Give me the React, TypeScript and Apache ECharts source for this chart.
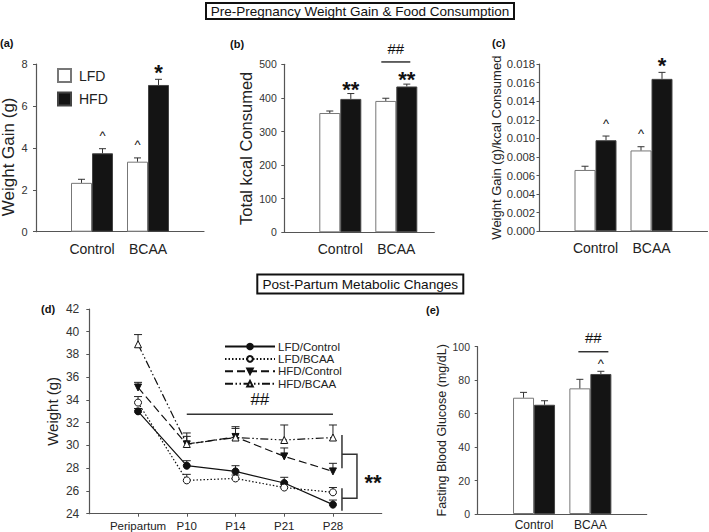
import React, { useEffect, useRef } from 'react';
import * as echarts from 'echarts';

const FONT = '"Liberation Sans", Arial, Helvetica, sans-serif';

// ---- shared categories ----
const groupNames = ['Control', 'BCAA'];
const groupPos = [1, 2];

// ---- panel (a) Weight Gain (g) ----
const aLFD = [2.33, 3.34];
const aLFDErr = [2.5, 3.52];
const aHFD = [3.74, 7.0];
const aHFDErr = [3.96, 7.27];
const aLFDMarks = ['', '^'];
const aHFDMarks = ['^', '*'];

// ---- panel (b) Total kcal Consumed ----
const bLFD = [355, 391];
const bLFDErr = [361, 399];
const bHFD = [397, 434];
const bHFDErr = [413, 441];
const bLFDMarks = ['', ''];
const bHFDMarks = ['**', '**'];
const bSig = [2, 507]; // group position, line level

// ---- panel (c) Weight Gain (g)/kcal Consumed ----
const cLFD = [0.0066, 0.0087];
const cLFDErr = [0.007, 0.0091];
const cHFD = [0.0098, 0.0164];
const cHFDErr = [0.01025, 0.0171];
const cLFDMarks = ['', '^'];
const cHFDMarks = ['^', '*'];

// ---- panel (e) Fasting Blood Glucose ----
const eLFD = [69.5, 75.1];
const eLFDErr = [72.7, 80.5];
const eHFD = [65.3, 83.7];
const eHFDErr = [67.7, 85.3];
const eLFDMarks = ['', ''];
const eHFDMarks = ['', '^'];
const eSig = [2, 97];

// ---- panel (d) Weight (g) over time ----
const dTimes = ['Peripartum', 'P10', 'P14', 'P21', 'P28'];
const dPos = [1, 2, 3, 4, 5];
const lfdCtrl = [33.0, 28.22, 27.72, 26.7, 24.8];
const lfdCtrlErr = [33.25, 28.66, 28.22, 27.2, 25.2];
const lfdBcaa = [33.77, 26.93, 27.1, 26.3, 25.88];
const lfdBcaaErr = [34.3, 27.46, 27.4, 26.55, 26.3];
const hfdCtrl = [35.1, 30.1, 30.75, 29.04, 27.72];
const hfdCtrlErr = [35.55, 31.1, 31.65, 29.78, 28.43];
const hfdBcaa = [38.9, 30.13, 30.7, 30.48, 30.7];
const hfdBcaaErr = [39.75, 30.8, 31.5, 31.8, 31.8];
const dSigLine = [2, 5, 32.75, 34.0]; // from, to, line level, text level
const dBracketTop = [30.92, 27.99, 29.22];
const dBracketBottom = [26.23, 24.26, 25.35];
const dStarLevel = 27.17;

const BAR_W = 21;
const AXIS_COLOR = '#555';
const TEXT_COLOR = '#222';

function barX(gi: number, max: number) {
  const isE = gi === 4;
  return {
    type: 'value',
    gridIndex: gi,
    min: 0,
    max,
    interval: 1,
    axisLine: { show: true, lineStyle: { color: AXIS_COLOR, width: 1.2 } },
    axisTick: { show: false },
    splitLine: { show: false },
    axisLabel: {
      customValues: groupPos,
      formatter: (v: number) => {
        const i = groupPos.indexOf(Math.round(v));
        return Math.abs(v - Math.round(v)) < 1e-6 && i >= 0 ? groupNames[i] : '';
      },
      fontFamily: FONT,
      fontSize: isE ? 12 : 14,
      color: TEXT_COLOR,
      margin: isE ? 5 : 10,
    },
  };
}

function yAx(gi: number, min: number, max: number, interval: number, name: string, o: any) {
  return {
    type: 'value',
    gridIndex: gi,
    min,
    max,
    interval,
    name,
    nameLocation: 'middle',
    nameGap: o.nameGap,
    nameRotate: 90,
    nameTextStyle: {
      fontFamily: FONT,
      fontSize: o.nameSize,
      color: TEXT_COLOR,
      padding: o.namePad || 0,
    },
    axisLine: { show: true, lineStyle: { color: AXIS_COLOR, width: 1.2 } },
    axisTick: { show: true, inside: false, length: 3, lineStyle: { color: AXIS_COLOR } },
    splitLine: { show: false },
    axisLabel: {
      fontFamily: FONT,
      fontSize: o.labelSize,
      color: '#333',
      margin: o.labelMargin,
      formatter: o.fmt,
    },
  };
}

function barSeries(gi: number, name: string, vals: number[]) {
  const isL = name === 'LFD';
  return {
    type: 'bar',
    name,
    xAxisIndex: gi,
    yAxisIndex: gi,
    barWidth: BAR_W,
    barGap: '0%',
    data: groupPos.map((p, i) => [p, vals[i]]),
    itemStyle: isL
      ? { color: '#ffffff', borderColor: '#777', borderWidth: 1 }
      : { color: '#141414', borderColor: '#444', borderWidth: 1 },
    silent: true,
  };
}

function markStyle(m: string, caretGap: number) {
  if (m === '^') return { size: 13, weight: 'normal', dy: caretGap };
  if (m === '*') return { size: 22, weight: 'bold', dy: 7 };
  return { size: 22, weight: 'bold', dy: 4.5 };
}

function barErrSeries(gi: number, means: number[], errs: number[], sign: number, marks: string[], caretGap: number) {
  return {
    type: 'custom',
    name: 'err' + gi + '_' + sign,
    xAxisIndex: gi,
    yAxisIndex: gi,
    z: 5,
    silent: true,
    data: groupPos.map((p, i) => [p, means[i], errs[i]]),
    renderItem: (params: any, api: any) => {
      const x = api.value(0);
      const pm = api.coord([x, api.value(1)]);
      const pe = api.coord([x, api.value(2)]);
      const cx = pm[0] + sign * (BAR_W / 2);
      const children: any[] = [
        { type: 'line', shape: { x1: cx, y1: pm[1], x2: cx, y2: pe[1] }, style: { stroke: '#333', lineWidth: 1 } },
        { type: 'line', shape: { x1: cx - 3.5, y1: pe[1], x2: cx + 3.5, y2: pe[1] }, style: { stroke: '#333', lineWidth: 1 } },
      ];
      const m = marks[params.dataIndex];
      if (m) {
        const ms = markStyle(m, caretGap);
        children.push({
          type: 'text',
          style: {
            text: m,
            x: cx,
            y: pe[1] - ms.dy,
            align: 'center',
            textAlign: 'center',
            verticalAlign: 'middle',
            textVerticalAlign: 'middle',
            fontFamily: FONT,
            fontSize: ms.size,
            fontWeight: ms.weight,
            fill: '#111',
          },
        });
      }
      return { type: 'group', children };
    },
  };
}

function sigSeries(gi: number, sig: number[], dx1: number, dx2: number, textGap: number) {
  return {
    type: 'custom',
    name: 'sig' + gi,
    xAxisIndex: gi,
    yAxisIndex: gi,
    z: 6,
    silent: true,
    data: [sig],
    renderItem: (params: any, api: any) => {
      const p = api.coord([api.value(0), api.value(1)]);
      return {
        type: 'group',
        children: [
          { type: 'line', shape: { x1: p[0] + dx1, y1: p[1], x2: p[0] + dx2, y2: p[1] }, style: { stroke: '#333', lineWidth: 1.5 } },
          {
            type: 'text',
            style: {
              text: '##',
              x: p[0] + (dx1 + dx2) / 2,
              y: p[1] - textGap,
              align: 'center',
              textAlign: 'center',
              verticalAlign: 'middle',
              textVerticalAlign: 'middle',
              fontFamily: FONT,
              fontSize: 15,
              fill: '#111',
            },
          },
        ],
      };
    },
  };
}

const lineDefs = [
  { name: 'LFD/Control', vals: lfdCtrl, errs: lfdCtrlErr, type: 'solid', symbol: 'circle', fill: '#111', rot: 0 },
  { name: 'LFD/BCAA', vals: lfdBcaa, errs: lfdBcaaErr, type: [1.5, 2], symbol: 'circle', fill: '#fff', rot: 0 },
  { name: 'HFD/Control', vals: hfdCtrl, errs: hfdCtrlErr, type: [8, 4], symbol: 'triangle', fill: '#111', rot: 180 },
  { name: 'HFD/BCAA', vals: hfdBcaa, errs: hfdBcaaErr, type: [8, 2.5, 1.5, 2.5, 1.5, 2.5], symbol: 'triangle', fill: '#fff', rot: 0 },
];

function buildOption() {
  const series: any[] = [];
  // bar panels
  const barPanels = [
    { gi: 0, L: aLFD, LE: aLFDErr, H: aHFD, HE: aHFDErr, LM: aLFDMarks, HM: aHFDMarks, cg: 13 },
    { gi: 1, L: bLFD, LE: bLFDErr, H: bHFD, HE: bHFDErr, LM: bLFDMarks, HM: bHFDMarks, cg: 13 },
    { gi: 2, L: cLFD, LE: cLFDErr, H: cHFD, HE: cHFDErr, LM: cLFDMarks, HM: cHFDMarks, cg: 13 },
    { gi: 4, L: eLFD, LE: eLFDErr, H: eHFD, HE: eHFDErr, LM: eLFDMarks, HM: eHFDMarks, cg: 8 },
  ];
  barPanels.forEach((p) => {
    series.push(barSeries(p.gi, 'LFD', p.L));
    series.push(barSeries(p.gi, 'HFD', p.H));
    series.push(barErrSeries(p.gi, p.L, p.LE, -1, p.LM, p.cg));
    series.push(barErrSeries(p.gi, p.H, p.HE, 1, p.HM, p.cg));
  });
  series.push(sigSeries(1, bSig, -15, 14, 13));
  series.push(sigSeries(4, eSig, -12, 18, 14));

  // line panel
  lineDefs.forEach((d) => {
    series.push({
      type: 'line',
      name: d.name,
      xAxisIndex: 3,
      yAxisIndex: 3,
      data: dPos.map((p, i) => [p, d.vals[i]]),
      symbol: d.symbol,
      symbolSize: 7,
      symbolRotate: d.rot,
      showAllSymbol: true,
      lineStyle: { color: '#111', width: 1.2, type: d.type },
      itemStyle: { color: d.fill, borderColor: '#111', borderWidth: 1 },
      z: 4,
      silent: true,
    });
    series.push({
      type: 'custom',
      name: 'errD_' + d.name,
      xAxisIndex: 3,
      yAxisIndex: 3,
      z: 3,
      silent: true,
      data: dPos.map((p, i) => [p, d.vals[i], d.errs[i]]),
      renderItem: (params: any, api: any) => {
        const pm = api.coord([api.value(0), api.value(1)]);
        const pe = api.coord([api.value(0), api.value(2)]);
        return {
          type: 'group',
          children: [
            { type: 'line', shape: { x1: pm[0], y1: pm[1], x2: pe[0], y2: pe[1] }, style: { stroke: '#222', lineWidth: 1 } },
            { type: 'line', shape: { x1: pe[0] - 4, y1: pe[1], x2: pe[0] + 4, y2: pe[1] }, style: { stroke: '#222', lineWidth: 1 } },
          ],
        };
      },
    });
  });
  // panel (d) significance annotations
  series.push({
    type: 'custom',
    name: 'sigD',
    xAxisIndex: 3,
    yAxisIndex: 3,
    z: 6,
    silent: true,
    data: [[dSigLine[1], dStarLevel]],
    renderItem: (params: any, api: any) => {
      const l1 = api.coord([dSigLine[0], dSigLine[2]]);
      const l2 = api.coord([dSigLine[1], dSigLine[2]]);
      const t = api.coord([(dSigLine[0] + dSigLine[1]) / 2, dSigLine[3]]);
      const bt0 = api.coord([dSigLine[1], dBracketTop[0]]);
      const bt1 = api.coord([dSigLine[1], dBracketTop[1]]);
      const btj = api.coord([dSigLine[1], dBracketTop[2]]);
      const bb0 = api.coord([dSigLine[1], dBracketBottom[0]]);
      const bb1 = api.coord([dSigLine[1], dBracketBottom[1]]);
      const bbj = api.coord([dSigLine[1], dBracketBottom[2]]);
      const st = api.coord([dSigLine[1], dStarLevel]);
      const x0 = l2[0] + 9;
      const x1 = l2[0] + 24;
      const s = { stroke: '#333', lineWidth: 1.5 };
      return {
        type: 'group',
        children: [
          { type: 'line', shape: { x1: l1[0], y1: l1[1], x2: l2[0], y2: l2[1] }, style: s },
          {
            type: 'text',
            style: {
              text: '##', x: t[0], y: t[1], align: 'center', textAlign: 'center', verticalAlign: 'middle', textVerticalAlign: 'middle',
              fontFamily: FONT, fontSize: 17, fill: '#111',
            },
          },
          { type: 'line', shape: { x1: x0, y1: bt0[1], x2: x0, y2: bt1[1] }, style: s },
          { type: 'line', shape: { x1: x0, y1: bb0[1], x2: x0, y2: bb1[1] }, style: s },
          { type: 'polyline', shape: { points: [[x0, btj[1]], [x1, btj[1]], [x1, bbj[1]], [x0, bbj[1]]] }, style: { ...s, fill: 'none' } },
          {
            type: 'text',
            style: {
              text: '**', x: l2[0] + 40, y: st[1] + 4.5, align: 'center', textAlign: 'center', verticalAlign: 'middle', textVerticalAlign: 'middle',
              fontFamily: FONT, fontSize: 22, fontWeight: 'bold', fill: '#111',
            },
          },
        ],
      };
    },
  });

  const grids = [
    { left: 36, top: 64, width: 168, height: 167.7 },
    { left: 284.3, top: 64.3, width: 150, height: 168 },
    { left: 539.5, top: 64, width: 168, height: 167.3 },
    { left: 89.3, top: 309, width: 292.4, height: 204.7 },
    { left: 477.7, top: 346.7, width: 169, height: 167.3 },
  ].map((g) => ({ ...g, containLabel: false, outerBoundsMode: 'none' }));

  const xAxis: any[] = [
    barX(0, 3),
    barX(1, 150 / 56),
    barX(2, 3),
    {
      type: 'value',
      gridIndex: 3,
      min: 0,
      max: 6,
      interval: 1,
      axisLine: { show: true, lineStyle: { color: AXIS_COLOR, width: 1.2 } },
      axisTick: { show: true, length: 3, customValues: dPos, lineStyle: { color: AXIS_COLOR } },
      splitLine: { show: false },
      axisLabel: {
        customValues: dPos,
        formatter: (v: number) => {
          const i = dPos.indexOf(Math.round(v));
          return Math.abs(v - Math.round(v)) < 1e-6 && i >= 0 ? dTimes[i] : '';
        },
        fontFamily: FONT,
        fontSize: 11.5,
        color: TEXT_COLOR,
        margin: 6,
      },
    },
    barX(4, 3),
  ];

  const yAxis: any[] = [
    yAx(0, 0, 8, 2, 'Weight Gain (g)', { nameGap: 18, nameSize: 17, namePad: [0, 18, 0, 0], labelSize: 11, labelMargin: 8.5 }),
    yAx(1, 0, 500, 100, 'Total kcal Consumed', { nameGap: 30, nameSize: 16.5, labelSize: 10.5, labelMargin: 7.5 }),
    yAx(2, 0, 0.018, 0.002, 'Weight Gain (g)/kcal Consumed', {
      nameGap: 36, nameSize: 13, labelSize: 11.3, labelMargin: 4.5,
      fmt: (v: number) => v.toFixed(3),
    }),
    yAx(3, 24, 42, 2, 'Weight (g)', { nameGap: 29, nameSize: 15, labelSize: 12, labelMargin: 10 }),
    yAx(4, 0, 100, 20, 'Fasting Blood Glucose (mg/dL)', { nameGap: 29.7, nameSize: 12.5, labelSize: 10.5, labelMargin: 7.7 }),
  ];

  const panelLabel = (t: string, x: number, y: number) => ({
    type: 'text',
    x,
    y,
    style: {
      text: t, x: 0, y: 0, fontFamily: FONT, fontSize: 11, fontWeight: 'bold', fill: '#111',
      textAlign: 'left', align: 'left', textVerticalAlign: 'middle', verticalAlign: 'middle',
    },
  });

  const header = (t: string, cx: number, cy: number, w: number, h: number, fs: number) => [
    { type: 'rect', shape: { x: cx - w / 2, y: cy - h / 2, width: w, height: h }, style: { fill: '#fff', stroke: '#111', lineWidth: 2 } },
    {
      type: 'text',
      x: cx,
      y: cy,
      style: {
        text: t, x: 0, y: 0, fontFamily: FONT, fontSize: fs, fill: '#111',
        textAlign: 'center', align: 'center', textVerticalAlign: 'middle', verticalAlign: 'middle',
      },
    },
  ];

  return {
    animation: false,
    backgroundColor: '#fff',
    grid: grids,
    xAxis,
    yAxis,
    legend: [
      {
        data: ['LFD', 'HFD'],
        orient: 'vertical',
        left: 52,
        top: 63,
        itemWidth: 13,
        itemHeight: 13,
        itemGap: 8.5,
        icon: 'rect',
        selectedMode: false,
        textStyle: { fontFamily: FONT, fontSize: 14, color: TEXT_COLOR, lineHeight: 13, padding: [0, 0, 0, 3] },
      },
      {
        data: lineDefs.map((d) => d.name),
        orient: 'vertical',
        left: 219,
        top: 335.5,
        itemWidth: 50,
        itemHeight: 7,
        itemGap: 0.4,
        selectedMode: false,
        textStyle: { fontFamily: FONT, fontSize: 11.5, color: TEXT_COLOR, lineHeight: 12, padding: [0, 0, 0, -2] },
      },
    ],
    graphic: [
      ...header('Pre-Pregnancy Weight Gain & Food Consumption', 360, 11, 308, 16, 13.5),
      ...header('Post-Partum Metabolic Changes', 360.3, 284, 206, 19, 13.6),
      panelLabel('(a)', 0, 43),
      panelLabel('(b)', 230, 44),
      panelLabel('(c)', 492, 43),
      panelLabel('(d)', 41, 309),
      panelLabel('(e)', 426, 310),
    ],
    series,
  };
}

export default function App() {
  const ref = useRef<HTMLDivElement>(null);
  useEffect(() => {
    if (!ref.current) return;
    const chart = echarts.init(ref.current, null, { renderer: 'svg' });
    chart.setOption(buildOption() as any);
    return () => chart.dispose();
  }, []);
  return (
    <div
      ref={ref}
      style={{ position: 'fixed', left: 0, top: 0, width: 709, height: 532, background: '#fff' }}
    />
  );
}
